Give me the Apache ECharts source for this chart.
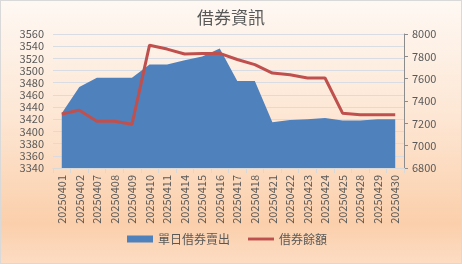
<!DOCTYPE html>
<html><head><meta charset="utf-8">
<script src="https://cdn.jsdelivr.net/npm/echarts@6/dist/echarts.min.js"></script>
<style>html,body{margin:0;padding:0;}#c{width:462px;height:264px;box-sizing:border-box;border:1px solid #d9d9d9;}</style>
</head><body><div id="c"></div>
<script>
const categories = ['20250401','20250402','20250407','20250408','20250409','20250410','20250411','20250414','20250415','20250416','20250417','20250418','20250421','20250422','20250423','20250424','20250425','20250428','20250429','20250430'];
const dailySell = [3430,3473,3488,3488,3488,3510,3510,3517,3523,3536,3483,3483,3415,3419,3420,3422,3418,3418,3420,3420];
const balance = [7283,7318,7218,7218,7191,7900,7865,7821,7826,7826,7772,7726,7650,7635,7606,7606,7291,7276,7276,7276];
const leftTicks = {min:3340,max:3560,interval:20};
const rightTicks = {min:6800,max:8000,interval:200};

const chart = echarts.init(document.getElementById('c'));
const font = '"Noto Sans CJK TC","Noto Sans",sans-serif';
chart.setOption({
  backgroundColor: new echarts.graphic.LinearGradient(0,0,0,1,[
    {offset:0,color:'#fef8f3'},
    {offset:0.45,color:'#fde6d3'},
    {offset:0.85,color:'#fbcfab'},
    {offset:1,color:'#fcdcc3'}
  ]),
  animation:false,
  textStyle:{fontFamily:font},
  title:{text:'借券資訊',left:'center',top:3,textStyle:{fontSize:17,fontWeight:'normal',color:'#595959',fontFamily:font}},
  legend:{bottom:13,left:121,itemGap:18,itemWidth:26,itemHeight:7,
    textStyle:{fontSize:12,color:'#595959',fontFamily:font},
    data:[{name:'單日借券賣出',icon:'rect'},{name:'借券餘額',icon:'path://M0,0H27V3H0Z'}]},
  grid:{left:52,right:57,top:33,bottom:95,containLabel:false},
  xAxis:{type:'category',data:categories,boundaryGap:true,
    axisLine:{show:true,lineStyle:{color:'#d9d9d9'}},
    axisTick:{show:true,alignWithLabel:false,lineStyle:{color:'#d9d9d9'}},
    axisLabel:{rotate:90,fontSize:11,color:'#595959',interval:0,margin:7,fontFamily:font}},
  yAxis:[
    {type:'value',min:leftTicks.min,max:leftTicks.max,interval:leftTicks.interval,
     axisLine:{show:false},axisTick:{show:false},
     axisLabel:{fontSize:11,color:'#595959',margin:9,fontFamily:font,formatter:v=>String(v)},
     splitLine:{lineStyle:{color:'#d9dde3'}}},
    {type:'value',min:rightTicks.min,max:rightTicks.max,interval:rightTicks.interval,position:'right',
     axisLine:{show:true,lineStyle:{color:'#8c8c8c'}},axisTick:{show:true,length:4,lineStyle:{color:'#8c8c8c'}},
     axisLabel:{fontSize:11,color:'#595959',margin:8,fontFamily:font,formatter:v=>String(v)},
     splitLine:{show:false}}
  ],
  series:[
    {name:'單日借券賣出',type:'line',yAxisIndex:0,data:dailySell,symbol:'none',
     lineStyle:{width:0},itemStyle:{color:'#4f81bd'},areaStyle:{color:'#4f81bd',opacity:1,origin:'start'}},
    {name:'借券餘額',type:'line',yAxisIndex:1,data:balance,symbol:'none',
     lineStyle:{width:3,color:'#c0504d'},itemStyle:{color:'#c0504d'}}
  ]
});
</script></body></html>
